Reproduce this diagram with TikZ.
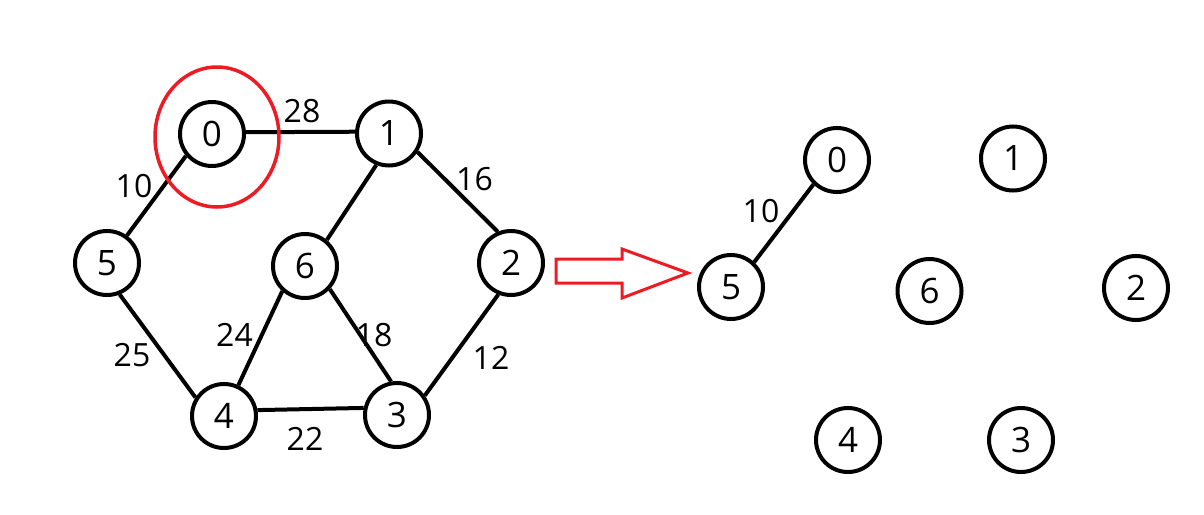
\documentclass[tikz,border=0pt]{standalone}
\usepackage{fontspec}
\setmainfont{Open Sans}
\definecolor{paintred}{RGB}{237,28,36}
\begin{document}
\begin{tikzpicture}[x=1pt,y=-1pt,
  vtx/.style={circle,draw=black,line width=4pt,minimum size=64pt,inner sep=0pt,font=\fontsize{35}{40}\selectfont},
  edge/.style={draw=black,line width=4pt},
  wlabel/.style={inner sep=0pt,font=\fontsize{32}{36}\selectfont},
  redring/.style={draw=paintred,line width=3.5pt},
  bigarrow/.style={draw=paintred,line width=3pt,line join=miter}]
\useasboundingbox (0,0) rectangle (1204,514);
% left graph
\node[vtx] (n0) at (212,134) {0};
\node[vtx] (n1) at (389,133.5) {1};
\node[vtx] (n2) at (511,263) {2};
\node[vtx] (n6) at (305,266) {6};
\node[vtx] (n5) at (107,263) {5};
\node[vtx] (n4) at (224,416) {4};
\node[vtx] (n3) at (397,415) {3};
\draw[edge] (n0.3) -- (n1.177);
\draw[edge] (n0.-140) -- (n5.54);
\draw[edge] (n1.-112) -- (n6.50);
\draw[edge] (n1.-33) -- (n2.113);
\draw[edge] (n2.-112) -- (n3.35);
\draw[edge] (n6.-132) -- (n4.65);
\draw[edge] (n6.-43) -- (n3.100);
\draw[edge] (n5.-68) -- (n4.147);
\draw[edge] (n4.10) -- (n3.168);
\node[wlabel] (l28) at (302,111.5) {28};
\node[wlabel] (l10) at (134,186) {10};
\node[wlabel] (l16) at (474.5,179.5) {16};
\node[wlabel] (l24) at (234.5,335) {24};
\node[wlabel] (l18) at (374,335) {18};
\node[wlabel] (l25) at (132,355.5) {25};
\node[wlabel] (l12) at (491,358) {12};
\node[wlabel] (l22) at (305,438.5) {22};
% red highlight
\draw[redring] (217,137) ellipse [x radius=62, y radius=70];
% hollow arrow
\draw[bigarrow] (556,259) -- (622,259) -- (622,249) -- (688,273) -- (622,298) -- (622,283) -- (556,283) -- cycle;
% right graph
\node[vtx] (r0) at (837,160) {0};
\node[vtx] (r1) at (1013,158.5) {1};
\node[vtx] (r5) at (731,287) {5};
\node[vtx] (r6) at (929.5,291) {6};
\node[vtx] (r2) at (1136,288) {2};
\node[vtx] (r4) at (848,440) {4};
\node[vtx] (r3) at (1021,440) {3};
\draw[edge] (r0.-134) -- (r5.47);
\node[wlabel] (rl10) at (761,211.5) {10};
\end{tikzpicture}
\end{document}
